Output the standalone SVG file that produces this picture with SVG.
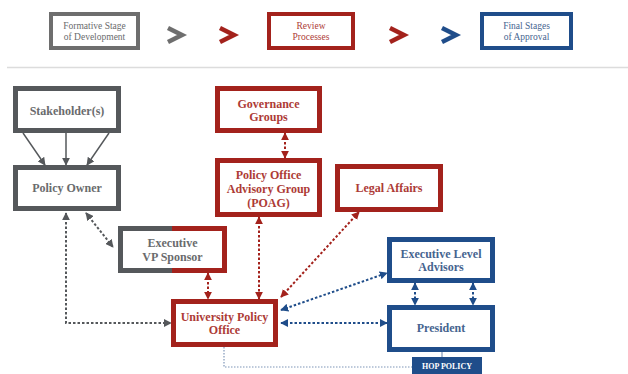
<svg xmlns="http://www.w3.org/2000/svg" width="628" height="374" viewBox="0 0 628 374">
<style>
text{font-family:"Liberation Serif","Times New Roman",serif;font-weight:bold;text-anchor:middle}
.t{font-size:12px}
.h{font-size:9.5px;font-weight:normal}
.g{fill:#6a6b6d}.r{fill:#ad3b36}.b{fill:#46648f}
.bx{fill:#fff;stroke-width:5}
.hb{fill:#fff;stroke-width:4}
.sg{stroke:#55585b}.sr{stroke:#a3221c}.sb{stroke:#1f4d8a}
.chev{fill:none;stroke-width:4.5;stroke-linecap:butt}
.d{fill:none;stroke-width:2;stroke-dasharray:2.5 2}
.dg{stroke:#55585b}.dr{stroke:#a3221c}.db{stroke:#1f4d8a}
</style>
<defs>
<marker id="ag" viewBox="0 0 10 10" refX="9" refY="5" markerWidth="8" markerHeight="8" markerUnits="userSpaceOnUse" orient="auto-start-reverse"><path d="M0,0 L10,5 L0,10 Z" fill="#55585b"/></marker>
<marker id="ar" viewBox="0 0 10 10" refX="9" refY="5" markerWidth="8" markerHeight="8" markerUnits="userSpaceOnUse" orient="auto-start-reverse"><path d="M0,0 L10,5 L0,10 Z" fill="#a3221c"/></marker>
<marker id="ab" viewBox="0 0 10 10" refX="9" refY="5" markerWidth="8" markerHeight="8" markerUnits="userSpaceOnUse" orient="auto-start-reverse"><path d="M0,0 L10,5 L0,10 Z" fill="#1f4d8a"/></marker>
</defs>
<rect width="628" height="374" fill="#fff"/>
<g id="legend">
<rect class="hb sg" x="51" y="14" width="87" height="34" style="stroke:#6e6e6e"/>
<text class="h g" x="94.5" y="29">Formative Stage</text>
<text class="h g" x="94.5" y="40">of Development</text>
<polyline class="chev" points="168,28 182,35 168,42" stroke="#6e6e6e"/>
<polyline class="chev" points="220,28 234,35 220,42" stroke="#a3221c"/>
<rect class="hb sr" x="269" y="14" width="84" height="34"/>
<text class="h r" x="311" y="29">Review</text>
<text class="h r" x="311" y="40">Processes</text>
<polyline class="chev" points="390,28 404,35 390,42" stroke="#a3221c"/>
<polyline class="chev" points="442,28 456,35 442,42" stroke="#1f4d8a"/>
<rect class="hb sb" x="482" y="14" width="89" height="34"/>
<text class="h b" x="526.5" y="29">Final Stages</text>
<text class="h b" x="526.5" y="40">of Approval</text>
<line x1="7" y1="67.5" x2="628" y2="67.5" stroke="#dcdcdc" stroke-width="1.5"/>
</g>
<g id="connectors">
<line x1="23" y1="133" x2="45" y2="165" stroke="#55585b" stroke-width="1.5" marker-end="url(#ag)"/>
<line x1="66" y1="133" x2="66" y2="165" stroke="#55585b" stroke-width="1.5" marker-end="url(#ag)"/>
<line x1="109" y1="133" x2="87" y2="165" stroke="#55585b" stroke-width="1.5" marker-end="url(#ag)"/>
<line class="d dg" x1="86" y1="213" x2="113" y2="247" marker-start="url(#ag)" marker-end="url(#ag)"/>
<polyline class="d dg" points="66,213 66,323 171,323" marker-start="url(#ag)" marker-end="url(#ag)"/>
<line class="d dr" x1="285" y1="133" x2="285" y2="158" marker-start="url(#ar)" marker-end="url(#ar)"/>
<line class="d dr" x1="259" y1="217" x2="259" y2="299" marker-start="url(#ar)" marker-end="url(#ar)"/>
<line class="d dr" x1="208" y1="273" x2="208" y2="299" marker-start="url(#ar)" marker-end="url(#ar)"/>
<line class="d dr" x1="281" y1="297" x2="359" y2="212" marker-start="url(#ar)" marker-end="url(#ar)"/>
<line class="d db" x1="281" y1="310" x2="387" y2="273" marker-start="url(#ab)" marker-end="url(#ab)"/>
<line class="d db" x1="281" y1="323" x2="387" y2="323" marker-start="url(#ab)" marker-end="url(#ab)"/>
<line class="d db" x1="415" y1="283" x2="415" y2="305" marker-start="url(#ab)" marker-end="url(#ab)"/>
<line class="d db" x1="473" y1="283" x2="473" y2="305" marker-start="url(#ab)" marker-end="url(#ab)"/>
<polyline points="224,347 224,367 412,367" fill="none" stroke="#7f96b8" stroke-width="1.2" stroke-dasharray="1.5 1.5"/>
<line x1="442" y1="352" x2="442" y2="357" stroke="#7f96b8" stroke-width="1.2"/>
</g>
<g id="stakeholders">
<rect class="bx sg" x="15.5" y="88.5" width="103" height="42"/>
<text class="t g" x="67" y="115">Stakeholder(s)</text>
</g>
<g id="policy-owner">
<rect class="bx sg" x="15.5" y="167.5" width="103" height="41"/>
<text class="t g" x="67" y="192">Policy Owner</text>
</g>
<g id="governance-groups">
<rect class="bx sr" x="217.5" y="88.5" width="102" height="42"/>
<text class="t r" x="268.5" y="108">Governance</text>
<text class="t r" x="268.5" y="121">Groups</text>
</g>
<g id="poag">
<rect class="bx sr" x="217.5" y="160.5" width="102" height="54"/>
<text class="t r" x="268.5" y="179">Policy Office</text>
<text class="t r" x="268.5" y="193">Advisory Group</text>
<text class="t r" x="268.5" y="207">(POAG)</text>
</g>
<g id="legal-affairs">
<rect class="bx sr" x="337.5" y="166.5" width="103" height="43"/>
<text class="t r" x="389" y="192">Legal Affairs</text>
</g>
<g id="executive-vp-sponsor">
<rect x="120.5" y="228.5" width="104" height="42" fill="#fff"/>
<polyline points="172,228.5 120.5,228.5 120.5,270.5 172,270.5" fill="none" stroke="#55585b" stroke-width="5"/>
<polyline points="172,228.5 224.5,228.5 224.5,270.5 172,270.5" fill="none" stroke="#a3221c" stroke-width="5"/>
<text class="t g" x="172.5" y="247">Executive</text>
<text class="t g" x="172.5" y="261">VP Sponsor</text>
</g>
<g id="university-policy-office">
<rect class="bx sr" x="173.5" y="301.5" width="102" height="43"/>
<text class="t r" x="224.5" y="321">University Policy</text>
<text class="t r" x="224.5" y="334">Office</text>
</g>
<g id="executive-level-advisors">
<rect class="bx sb" x="389.5" y="239.5" width="103" height="41"/>
<text class="t b" x="441" y="258">Executive Level</text>
<text class="t b" x="441" y="271">Advisors</text>
</g>
<g id="president">
<rect class="bx sb" x="389.5" y="307.5" width="103" height="42"/>
<text class="t b" x="441" y="332">President</text>
</g>
<g id="hop-policy">
<rect x="412" y="357" width="70" height="20" fill="#1f4d8a"/>
<text x="447" y="369" style="font-size:8px;fill:#fff">HOP POLICY</text>
</g>
</svg>
